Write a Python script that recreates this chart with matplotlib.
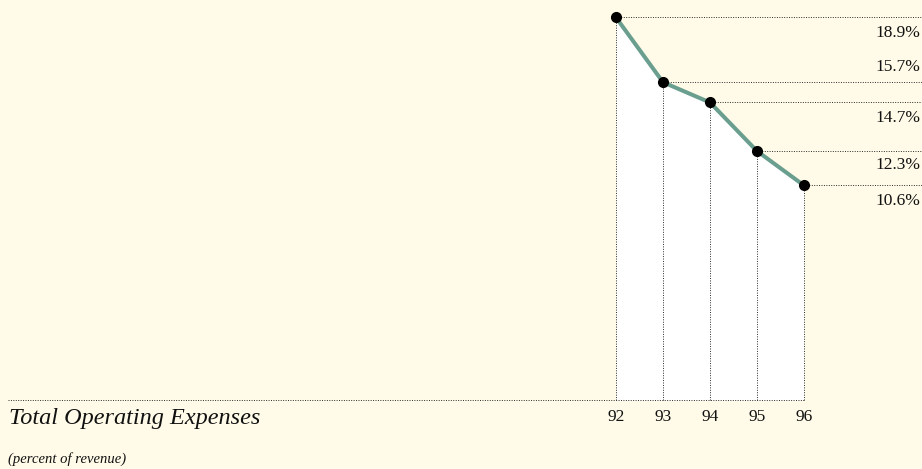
import matplotlib.pyplot as plt

years = [92, 93, 94, 95, 96]
year_labels = ['92', '93', '94', '95', '96']
expenses = [18.9, 15.7, 14.7, 12.3, 10.6]

# vertical nudge (pixels) for each value label relative to its guide line
label_offsets = [-16, 15, -16, -14, -16]

bg = '#fffbe8'
teal = '#6a9e8e'
guide = '#2a2a2a'
dot = (0, (1, 1.5))

fig = plt.figure(figsize=(9.22, 4.69), dpi=100, facecolor=bg)
ax = fig.add_axes([0, 0, 1, 1])
ax.set_facecolor(bg)

# 47 px per year, ~20.24 px per percent, zero at y=400 px
px_x = 47.0
px_y = 20.24
ax.set_xlim(92 - 616 / px_x, 92 + 306 / px_x)
ax.set_ylim(-69 / px_y, 400 / px_y)
ax.axis('off')

# white area under the line
ax.fill_between(years, expenses, 0, color='white', lw=0, zorder=1)

# dotted guides
x_right = ax.get_xlim()[1]
for x, y, off in zip(years, expenses, label_offsets):
    ax.plot([x, x], [0, y], color=guide, lw=0.7, ls=dot, zorder=2)
    ax.plot([x, x_right], [y, y], color=guide, lw=0.7, ls=dot, zorder=2)
    ax.annotate(f'{y:.1f}%', xy=(x_right, y), xytext=(-2, off),
                textcoords='offset pixels', ha='right', va='center',
                fontsize=12.5, family='Liberation Serif', color='#111111')

# baseline
ax.plot([92 - 608 / px_x, years[-1]], [0, 0], color=guide, lw=0.7,
        ls=dot, zorder=2)

ax.plot(years, expenses, color=teal, lw=2.9, zorder=3, solid_capstyle='round')
ax.plot(years, expenses, 'o', color='black', ms=7, zorder=4)

for x, t in zip(years, year_labels):
    ax.annotate(t, xy=(x, 0), xytext=(0, -17), textcoords='offset pixels',
                ha='center', va='center', fontsize=12.5,
                family='Liberation Serif', color='#111111')

fig.text(9 / 922, 1 - 418 / 469, 'Total Operating Expenses', ha='left',
         va='center', fontsize=17.5, style='italic',
         family='Liberation Serif', color='#111111')
fig.text(8 / 922, 1 - 459 / 469, '(percent of revenue)', ha='left',
         va='center', fontsize=10.5, style='italic',
         family='Liberation Serif', color='#111111')

fig.savefig('out.png', dpi=100, facecolor=bg)
